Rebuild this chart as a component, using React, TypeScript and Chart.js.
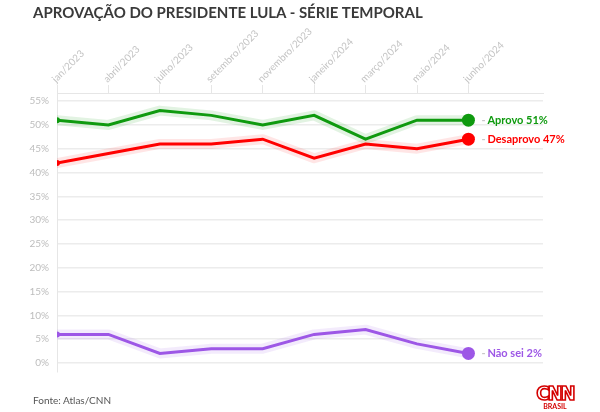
import React, { useEffect, useRef } from "react";
import { Chart, registerables } from "chart.js";

Chart.register(...registerables);

const months = [
  "jan/2023",
  "abril/2023",
  "julho/2023",
  "setembro/2023",
  "novembro/2023",
  "janeiro/2024",
  "março/2024",
  "maio/2024",
  "junho/2024",
];
const aprovo = [51, 50, 53, 52, 50, 52, 47, 51, 51];
const desaprovo = [42, 44, 46, 46, 47, 43, 46, 45, 47];
const naoSei = [6, 6, 2, 3, 3, 6, 7, 4, 2];
const seriesNames = ["Aprovo", "Desaprovo", "Não sei"];
const seriesColors = ["#0f9a0f", "#ff0000", "#9d57e6"];
const glowColors = ["rgba(15,154,15,0.12)", "rgba(255,0,0,0.10)", "rgba(157,87,230,0.12)"];
const yTicks = [0, 5, 10, 15, 20, 25, 30, 35, 40, 45, 50, 55];

const FONT = "Lato, 'Open Sans', sans-serif";

const endLabels = {
  id: "endLabels",
  afterDraw(chart: any) {
    const ctx = chart.ctx;
    const xs = chart.scales.x;
    const ys = chart.scales.y;
    ctx.save();
    // rotated month labels above the top axis
    ctx.font = `10px ${FONT}`;
    ctx.fillStyle = "#c4c4c4";
    ctx.textAlign = "left";
    ctx.textBaseline = "alphabetic";
    months.forEach((m, i) => {
      const px = xs.getPixelForValue(i);
      ctx.save();
      ctx.translate(px - 1, xs.bottom - 10);
      ctx.rotate(-Math.PI / 4);
      ctx.fillText(m, 0, 0);
      ctx.restore();
    });
    // end-of-line labels
    const all = [aprovo, desaprovo, naoSei];
    ctx.textBaseline = "middle";
    all.forEach((arr, i) => {
      const last = arr.length - 1;
      const px = xs.getPixelForValue(last);
      const py = ys.getPixelForValue(arr[last]);
      ctx.font = `bold 11px ${FONT}`;
      ctx.fillStyle = "#c8c8c8";
      ctx.fillText("-", px + 13, py);
      ctx.fillStyle = seriesColors[i];
      ctx.fillText(`${seriesNames[i]} ${arr[last]}%`, px + 19, py);
    });
    ctx.restore();
  },
};

function App() {
  const ref = useRef<HTMLCanvasElement | null>(null);

  useEffect(() => {
    document.body.style.margin = "0";
    const canvas = ref.current;
    if (!canvas) return;
    const series = [aprovo, desaprovo, naoSei];
    const datasets: any[] = [];
    series.forEach((arr, i) => {
      const pts = arr.map((v, idx) => ({ x: idx, y: v }));
      datasets.push({
        data: pts,
        borderColor: glowColors[i],
        borderWidth: 10,
        pointRadius: 0,
        tension: 0,
        order: 10,
        borderJoinStyle: "round",
        borderCapStyle: "round",
      });
      datasets.push({
        data: pts,
        borderColor: seriesColors[i],
        backgroundColor: seriesColors[i],
        borderWidth: 3,
        pointRadius: arr.map((_, idx) => (idx === 0 ? 3 : idx === arr.length - 1 ? 6.5 : 0)),
        pointBorderWidth: 0,
        tension: 0,
        order: 1,
      });
    });

    const chart = new Chart(canvas, {
      type: "line",
      data: { datasets },
      plugins: [endLabels],
      options: {
        animation: false,
        responsive: false,
        maintainAspectRatio: false,
        layout: { padding: { left: 0, top: 0, right: 57, bottom: 40 } },
        plugins: { legend: { display: false }, tooltip: { enabled: false } },
        scales: {
          x: {
            type: "linear",
            position: "top",
            min: 0,
            max: 9.45,
            afterBuildTicks: (s: any) => {
              s.ticks = months.map((_, i) => ({ value: i }));
            },
            afterFit: (s: any) => {
              s.height = 93;
            },
            ticks: {
              display: false,
              autoSkip: false,
            },
            grid: {
              drawOnChartArea: false,
              drawTicks: true,
              tickLength: 8,
              color: "#e6e6e6",
            },
            border: { display: true, color: "#e6e6e6", width: 1 },
          },
          y: {
            type: "linear",
            min: -1.9,
            max: 56.7,
            afterBuildTicks: (s: any) => {
              s.ticks = yTicks.map((v) => ({ value: v }));
            },
            afterFit: (s: any) => {
              s.width = 57;
            },
            ticks: {
              padding: 8,
              color: "#bdbdbd",
              font: { family: FONT, size: 10 },
              callback: (v: any) => `${v}%`,
            },
            grid: { drawTicks: false, color: "#ececec", lineWidth: 1.5 },
            border: { display: true, color: "#e6e6e6", width: 1 },
          },
        },
      },
    });
    return () => chart.destroy();
  }, []);

  return (
    <div
      style={{
        position: "fixed",
        left: 0,
        top: 0,
        width: 600,
        height: 412,
        background: "#fff",
        overflow: "hidden",
        fontFamily: FONT,
      }}
    >
      <canvas ref={ref} width={600} height={412} style={{ position: "absolute", left: 0, top: 0 }} />
      <div
        style={{
          position: "absolute",
          left: 33,
          top: 3,
          fontSize: 15,
          fontWeight: 700,
          color: "#3a3a3a",
          whiteSpace: "nowrap",
          letterSpacing: 0,
        }}
      >
        APROVAÇÃO DO PRESIDENTE LULA - SÉRIE TEMPORAL
      </div>
      <div
        style={{
          position: "absolute",
          left: 33,
          top: 394,
          fontSize: 10,
          color: "#555",
          whiteSpace: "nowrap",
        }}
      >
        Fonte: Atlas/CNN
      </div>
      <div
        style={{
          position: "absolute",
          left: 534,
          top: 383,
          width: 42,
          textAlign: "center",
          lineHeight: 1,
        }}
      >
        <div
          style={{
            fontFamily: "'Liberation Sans Narrow', 'DejaVu Sans Condensed', sans-serif",
            fontWeight: 700,
            fontSize: 20,
            color: "#fff",
            WebkitTextStroke: "1.6px #d40000",
            letterSpacing: -2,
          }}
        >
          CNN
        </div>
        <div style={{ fontSize: 7, fontWeight: 700, color: "#d40000", marginTop: 0 }}>BRASIL</div>
      </div>
    </div>
  );
}

export default App;
